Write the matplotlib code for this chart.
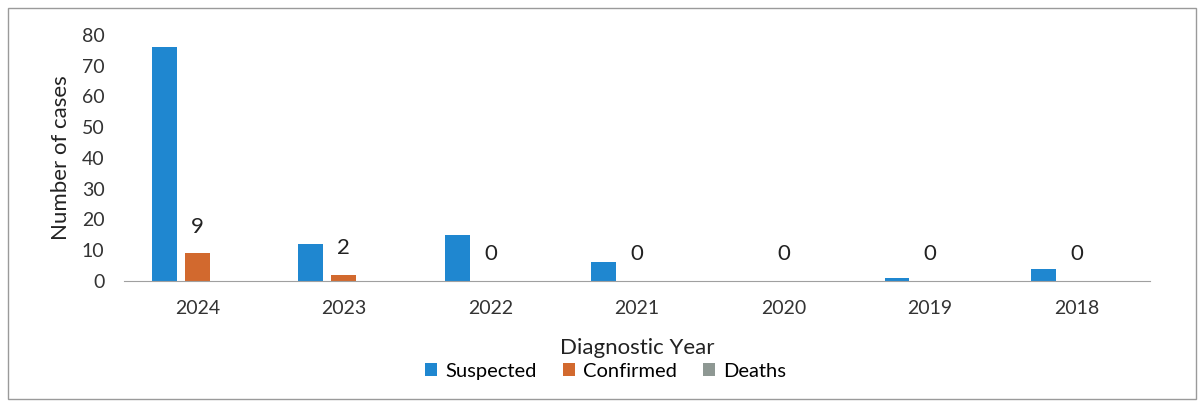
import numpy as np
import matplotlib.pyplot as plt
from matplotlib.patches import Rectangle

plt.rcParams['font.family'] = ['Lato', 'DejaVu Sans']

# 数据
years = ['2024', '2023', '2022', '2021', '2020', '2019', '2018']
suspected = [76, 12, 15, 6, 0, 1, 4]
confirmed = [9, 2, 0, 0, 0, 0, 0]
deaths = [0, 0, 0, 0, 0, 0, 0]

C_SUS = '#1f87d0'
C_CON = '#d2692e'
C_DEA = '#8e9893'

fig = plt.figure(figsize=(12.04, 4.07), dpi=100)
ax = fig.add_axes([0.103, 0.31, 0.852, 0.604])

x = np.arange(len(years))
w = 0.17
step = 0.225
ax.bar(x - step, suspected, w, color=C_SUS, label='Suspected')
ax.bar(x, confirmed, w, color=C_CON, label='Confirmed')
ax.bar(x + step, deaths, w, color=C_DEA, label='Deaths')

# 数据标签 (Confirmed)
for xi, v in zip(x, confirmed):
    ax.annotate(str(v), (xi, v), xytext=(0, 12), textcoords='offset points',
                ha='center', va='bottom', fontsize=16, color='#222222')

ax.set_xlim(-0.5, len(years) - 0.5)
ax.set_ylim(0, 80)
ax.set_yticks(range(0, 81, 10))
ax.set_xticks(x)
ax.set_xticklabels(years)
ax.tick_params(axis='both', length=0, labelsize=14, colors='#333333')
ax.tick_params(axis='x', pad=14)
ax.tick_params(axis='y', pad=14)
for s in ['top', 'right', 'left']:
    ax.spines[s].set_visible(False)
ax.spines['bottom'].set_color('#a0a0a0')

ax.set_ylabel('Number of cases', fontsize=16, color='#222222', labelpad=8)
ax.set_xlabel('Diagnostic Year', fontsize=16, color='#222222', labelpad=15)

fig.legend(loc='center', bbox_to_anchor=(0.503, 0.088), ncol=3, frameon=False,
           fontsize=14.5, handlelength=0.6, handleheight=0.6, handletextpad=0.4,
           columnspacing=1.3)

fig.patches.append(Rectangle((0.007, 0.02), 0.986, 0.96, transform=fig.transFigure,
                             fill=False, edgecolor='#9a9a9a', linewidth=1))

plt.savefig('out.png', dpi=100)
